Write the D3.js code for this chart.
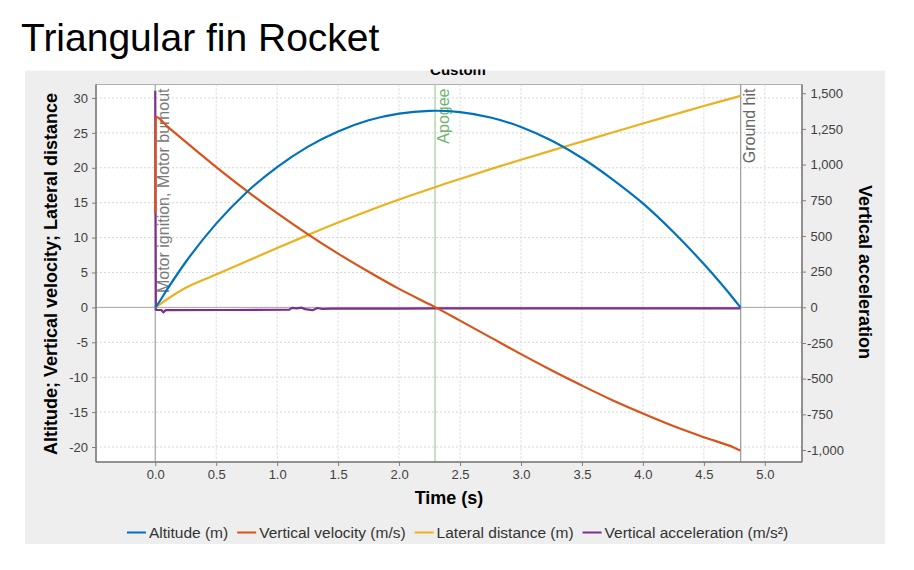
<!DOCTYPE html>
<html>
<head>
<meta charset="utf-8">
<script src="https://cdn.jsdelivr.net/npm/d3@7"></script>
<style>
  body { margin: 0; background: #fff; }
  svg { display: block; font-family: "Liberation Sans", Arial, sans-serif; }
</style>
</head>
<body>
<div id="chart"></div>
<script>
// values
const time      = [0, 0.005, 0.1, 0.25, 0.5, 0.75, 1.0, 1.25, 1.5, 1.75, 2.0, 2.25, 2.3, 2.5, 2.75, 3.0, 3.25, 3.5, 3.75, 4.0, 4.25, 4.5, 4.75, 4.8];
const altitude  = [0, 0.1, 2.65, 6.5, 12.0, 16.5, 20.1, 23.0, 25.2, 26.8, 27.75, 28.15, 28.17, 27.97, 27.2, 25.85, 23.9, 21.4, 18.35, 14.9, 10.8, 6.2, 1.1, 0];
const velocity  = [13.4, 27.3, 25.9, 23.7, 20.1, 16.7, 13.5, 10.5, 7.7, 5.1, 2.65, 0.45, 0, -1.9, -4.3, -6.7, -9.0, -11.2, -13.3, -15.2, -17.0, -18.6, -20.1, -20.5];
const lateral   = [0, 0.05, 1.2, 2.8, 4.7, 6.6, 8.5, 10.35, 12.15, 13.85, 15.45, 16.95, 17.25, 18.4, 19.8, 21.15, 22.45, 23.75, 25.05, 26.35, 27.6, 28.85, 30.05, 30.3];

const accelTime = [0, 0.005, 0.05, 0.066, 0.085, 0.6, 1.1, 1.12, 1.16, 1.2, 1.23, 1.29, 1.33, 1.37, 1.45, 2.0, 2.3, 3.0, 4.0, 4.8];
const accel     = [1518, -18, -19, -36, -20, -19, -17, -4, -7, -3, -13, -20, -5, -12, -10, -9, -8, -7, -8, -7];

const events = [
  { name: "Motor ignition, Motor burnout", t: 0,    line: "#a6a6a6", text: "#7a7a7a", w: 1.2 },
  { name: "Apogee",                        t: 2.295, line: "#b5dbb5", text: "#6db56d", w: 1.6 },
  { name: "Ground hit",                    t: 4.802, line: "#9a9a9a", text: "#666666", w: 1.2 }
];

const xTicks     = d3.range(0, 5.01, 0.5);
const leftTicks  = [-20, -15, -10, -5, 0, 5, 10, 15, 20, 25, 30];
const rightTicks = [-1000, -750, -500, -250, 0, 250, 500, 750, 1000, 1250, 1500];

const seriesNames  = ["Altitude (m)", "Vertical velocity (m/s)", "Lateral distance (m)", "Vertical acceleration (m/s²)"];
const seriesColors = ["#0072BD", "#D95319", "#EDB120", "#7E2F8E"];

const W = 914, H = 570;
const plot = { left: 96, right: 802, top: 84.5, bottom: 462 };

const svg = d3.select("#chart").append("svg").attr("width", W).attr("height", H);

// page title
svg.append("text")
  .attr("x", 21).attr("y", 51)
  .style("font-size", "39px")
  .attr("fill", "#000")
  .text("Triangular fin Rocket");

// grey chart panel
svg.append("rect")
  .attr("x", 25).attr("y", 70.7).attr("width", 860).attr("height", 473.3)
  .attr("fill", "#eeeeee");

// chart title, cut off at the top in the original
svg.append("clipPath").attr("id", "titleClip")
  .append("rect").attr("x", 0).attr("y", 69.5).attr("width", W).attr("height", 40);
svg.append("text")
  .attr("clip-path", "url(#titleClip)")
  .attr("x", 458).attr("y", 75)
  .attr("text-anchor", "middle")
  .style("font-size", "15px").style("font-weight", "bold")
  .text("Custom");

const x = d3.scaleLinear().domain([-0.486, 5.305]).range([plot.left, plot.right]);
const yL = d3.scaleLinear().domain([-22.15, 31.93]).range([plot.bottom, plot.top]);
const yR = d3.scaleLinear().domain([-1084, 1561]).range([plot.bottom, plot.top]);

const hyphen = s => s.replace("\u2212", "-");

svg.append("rect")
  .attr("x", plot.left).attr("y", plot.top)
  .attr("width", plot.right - plot.left).attr("height", plot.bottom - plot.top)
  .attr("fill", "#fff").attr("stroke", "#b0b0b0").attr("stroke-width", 1);

// dashed grid
const grid = svg.append("g").attr("stroke", "#d6d6d6").attr("stroke-width", 1).attr("stroke-dasharray", "2,2");
grid.selectAll(".gx").data(xTicks).enter().append("line")
  .attr("x1", d => x(d)).attr("x2", d => x(d))
  .attr("y1", plot.top).attr("y2", plot.bottom);
grid.selectAll(".gy").data(leftTicks).enter().append("line")
  .attr("x1", plot.left).attr("x2", plot.right)
  .attr("y1", d => yL(d)).attr("y2", d => yL(d));

// zero line
svg.append("line")
  .attr("x1", plot.left).attr("x2", plot.right)
  .attr("y1", yL(0)).attr("y2", yL(0))
  .attr("stroke", "#a8a8a8").attr("stroke-width", 1);

// flight event markers
const ev = svg.append("g");
events.forEach(e => {
  ev.append("line")
    .attr("x1", x(e.t)).attr("x2", x(e.t))
    .attr("y1", plot.top).attr("y2", plot.bottom)
    .attr("stroke", e.line).attr("stroke-width", e.w);
  ev.append("text")
    .attr("transform", `translate(${x(e.t) + 14},${plot.top + 4}) rotate(-90)`)
    .attr("text-anchor", "end")
    .attr("fill", e.text)
    .style("font-size", "16px")
    .text(e.name);
});

// series
svg.append("clipPath").attr("id", "plotClip")
  .append("rect").attr("x", plot.left).attr("y", plot.top)
  .attr("width", plot.right - plot.left).attr("height", plot.bottom - plot.top);

const lineL = d3.line().x(d => x(d[0])).y(d => yL(d[1])).curve(d3.curveMonotoneX);
const lineR = d3.line().x(d => x(d[0])).y(d => yR(d[1]));

const series = [
  { values: d3.zip(time, altitude), line: lineL, color: seriesColors[0] },
  { values: d3.zip(time, velocity), line: lineL, color: seriesColors[1] },
  { values: d3.zip(time, lateral),  line: lineL, color: seriesColors[2] },
  { values: d3.zip(accelTime, accel), line: lineR, color: seriesColors[3] }
];

const lines = svg.append("g").attr("clip-path", "url(#plotClip)");
// acceleration drawn first so the spike sits beneath the others
[3, 2, 1, 0].forEach(i => {
  lines.append("path")
    .datum(series[i].values)
    .attr("d", series[i].line)
    .attr("fill", "none")
    .attr("stroke", series[i].color)
    .attr("stroke-width", 2.2)
    .attr("stroke-linejoin", "round");
});

// axes
const styleAxis = g => {
  g.select(".domain").remove();
  g.selectAll(".tick line").attr("stroke", "#808080");
  g.selectAll(".tick text").attr("fill", "#404040")
    .style("font-size", "13px").style("font-family", "'Liberation Sans', Arial, sans-serif");
};

svg.append("g")
  .attr("transform", `translate(0,${plot.bottom})`)
  .call(d3.axisBottom(x).tickValues(xTicks).tickFormat(d3.format(".1f")).tickSize(4).tickPadding(4))
  .call(styleAxis);

svg.append("g")
  .attr("transform", `translate(${plot.left},0)`)
  .call(d3.axisLeft(yL).tickValues(leftTicks).tickFormat(d => hyphen(d3.format("d")(d))).tickSize(4).tickPadding(4))
  .call(styleAxis);

const rightAxis = svg.append("g")
  .attr("transform", `translate(${plot.right},0)`)
  .call(d3.axisRight(yR).tickValues(rightTicks).tickFormat(d => hyphen(d3.format(",")(d))).tickSize(4).tickPadding(4))
  .call(styleAxis);
rightAxis.selectAll(".tick text").attr("x", d => d < 0 ? 5 : 8.5);

// axis lines
const axisLines = svg.append("g").attr("stroke", "#7a7a7a").attr("stroke-width", 1.5);
axisLines.append("line").attr("x1", plot.left).attr("x2", plot.left).attr("y1", plot.top).attr("y2", plot.bottom);
axisLines.append("line").attr("x1", plot.right).attr("x2", plot.right).attr("y1", plot.top).attr("y2", plot.bottom);
axisLines.append("line").attr("x1", plot.left).attr("x2", plot.right).attr("y1", plot.bottom).attr("y2", plot.bottom);

// axis titles
svg.append("text")
  .attr("x", 449).attr("y", 504)
  .attr("text-anchor", "middle")
  .style("font-size", "18px").style("font-weight", "bold")
  .text("Time (s)");

svg.append("text")
  .attr("transform", `translate(57,274) rotate(-90)`)
  .attr("text-anchor", "middle")
  .style("font-size", "18px").style("font-weight", "bold")
  .text("Altitude; Vertical velocity; Lateral distance");

svg.append("text")
  .attr("transform", `translate(859,272) rotate(90)`)
  .attr("text-anchor", "middle")
  .style("font-size", "18px").style("font-weight", "bold")
  .text("Vertical acceleration");

// legend
const legend = svg.append("g");
let cursor = 0;
seriesNames.forEach((name, i) => {
  const item = legend.append("g").attr("transform", `translate(${cursor},0)`);
  item.append("line")
    .attr("x1", 0).attr("x2", 19).attr("y1", 0).attr("y2", 0)
    .attr("stroke", seriesColors[i]).attr("stroke-width", 2);
  const t = item.append("text")
    .attr("x", 22).attr("y", 5.5)
    .attr("fill", "#333")
    .style("font-size", "15.5px")
    .text(name);
  cursor += 22 + t.node().getComputedTextLength() + 9;
});
const legendWidth = cursor - 9;
legend.attr("transform", `translate(${457.5 - legendWidth / 2},532.5)`);
</script>
</body>
</html>
